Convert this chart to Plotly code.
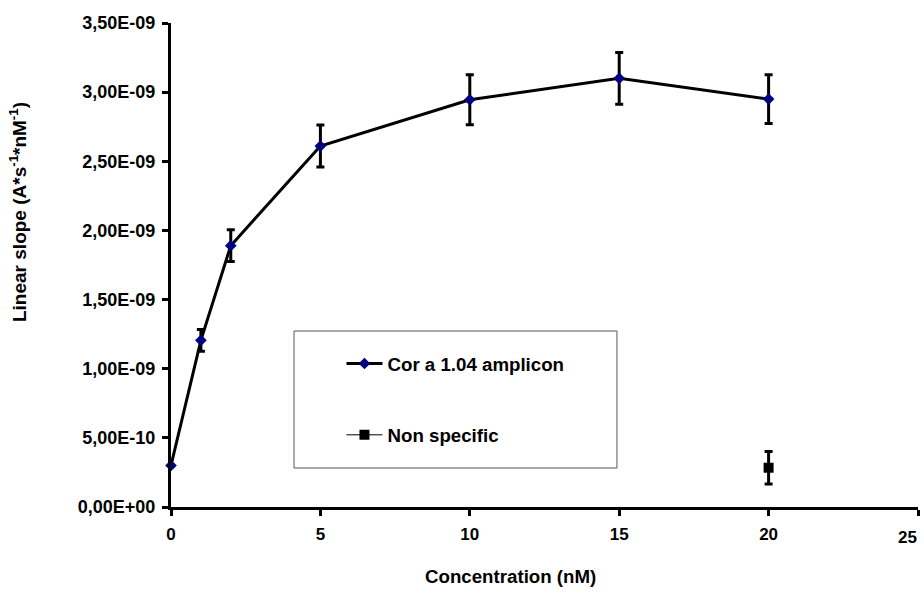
import plotly.graph_objects as go

# Data
conc = [0, 1, 2, 5, 10, 15, 20]
slope = [0.30e-9, 1.205e-9, 1.89e-9, 2.61e-9, 2.945e-9, 3.10e-9, 2.95e-9]
slope_err = [0.0, 0.078e-9, 0.115e-9, 0.152e-9, 0.18e-9, 0.187e-9, 0.176e-9]

ns_conc = [20]
ns_slope = [0.284e-9]
ns_err = [0.118e-9]

y_tickvals = [0, 0.5e-9, 1.0e-9, 1.5e-9, 2.0e-9, 2.5e-9, 3.0e-9, 3.5e-9]
y_ticktext = ["0,00E+00", "5,00E-10", "1,00E-09", "1,50E-09", "2,00E-09",
              "2,50E-09", "3,00E-09", "3,50E-09"]
x_tickvals = [0, 5, 10, 15, 20, 25]
x_ticktext = ["0", "5", "10", "15", "20", "25"]

FONT = "Liberation Sans, Arial, sans-serif"

# the last x label is drawn right-aligned at the axis end (kept inside the page, as in the reference)
x_ticktext_draw = x_ticktext[:-1] + [""]

fig = go.Figure()
fig.add_trace(go.Scatter(
    x=conc, y=slope, name="Cor a 1.04 amplicon", legendgroup="a",
    mode="lines+markers",
    line=dict(color="black", width=3),
    marker=dict(symbol="diamond", color="#000080", size=9),
    error_y=dict(type="data", array=slope_err, visible=True, color="black",
                 thickness=3, width=4),
    cliponaxis=False,
))
fig.add_trace(go.Scatter(
    x=ns_conc, y=ns_slope, name="Non specific", legendgroup="b",
    mode="lines+markers",
    line=dict(color="black", width=1),
    marker=dict(symbol="square", color="black", size=10),
    error_y=dict(type="data", array=ns_err, visible=True, color="black",
                 thickness=3, width=4),
    cliponaxis=False,
))

fig.update_layout(
    width=924, height=594,
    margin=dict(l=171, r=6, t=23, b=87),
    paper_bgcolor="white", plot_bgcolor="white",
    font=dict(family=FONT, size=17, color="black", weight="bold"),
    showlegend=True,
    legend=dict(x=0.2282, y=0.335, xanchor="left", yanchor="top",
                bgcolor="rgba(0,0,0,0)", borderwidth=0, itemwidth=36,
                tracegroupgap=44, font=dict(size=18.7, weight="bold")),
    xaxis=dict(range=[0, 25], tickvals=x_tickvals, ticktext=x_ticktext_draw,
               showgrid=False, zeroline=False, automargin=False,
               showline=True, linecolor="black", linewidth=3,
               ticks="outside", ticklen=6, tickwidth=3, tickcolor="black",
               ticklabelstandoff=4,
               tickfont=dict(size=17, weight="bold")),
    yaxis=dict(range=[0, 3.5e-9], tickvals=y_tickvals, ticktext=y_ticktext,
               showgrid=False, zeroline=False, automargin=False,
               showline=True, linecolor="black", linewidth=3,
               ticks="outside", ticklen=6, tickwidth=3, tickcolor="black",
               ticklabelstandoff=3,
               tickfont=dict(size=18, weight="bold")),
    shapes=[dict(type="rect", xref="paper", yref="paper",
                 x0=0.1647, x1=0.597, y0=0.0806, y1=0.3636,
                 line=dict(color="#555555", width=1), fillcolor="rgba(0,0,0,0)",
                 layer="below")],
    annotations=[
        dict(text=x_ticktext[-1], xref="x", yref="paper",
             x=x_tickvals[-1], y=0, xanchor="right", yanchor="top",
             xshift=1, yshift=-19, showarrow=False,
             font=dict(size=17, weight="bold")),
        dict(text="Concentration (nM)", xref="paper", yref="paper",
             x=0.455, y=-0.1446, xanchor="center", yanchor="middle",
             showarrow=False, font=dict(size=18.7, weight="bold")),
        dict(text="Linear slope (A*s<sup>-1</sup>*nM<sup>-1</sup>)", xref="paper", yref="paper",
             x=-0.2048, y=0.6095, xanchor="center", yanchor="middle", textangle=-90,
             showarrow=False, font=dict(size=19, weight="bold")),
    ],
)

fig.write_html("out.html")
